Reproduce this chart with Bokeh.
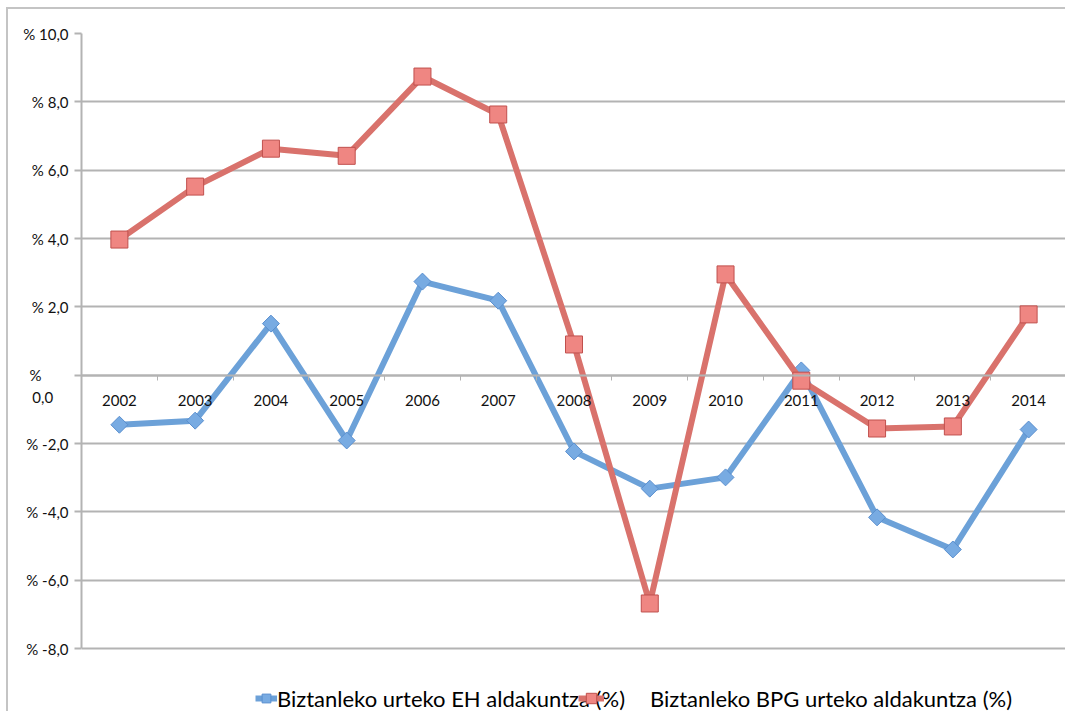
import numpy as np
from bokeh.plotting import figure
from bokeh.models import FixedTicker, Legend, LegendItem, Range1d
from bokeh.embed import file_html
from bokeh.resources import INLINE

years = [2002, 2003, 2004, 2005, 2006, 2007, 2008, 2009, 2010, 2011, 2012, 2013, 2014]
eh_change = [-1.45, -1.33, 1.51, -1.91, 2.74, 2.18, -2.23, -3.32, -2.99, 0.14, -4.16, -5.10, -1.59]
bpg_change = [3.97, 5.52, 6.63, 6.42, 8.74, 7.63, 0.90, -6.68, 2.95, -0.16, -1.56, -1.50, 1.78]
y_ticks = [-8, -6, -4, -2, 0, 2, 4, 6, 8, 10]
NB = "\u00a0"
y_tick_labels = ["% -8,0", "% -6,0", "% -4,0", "% -2,0", "\n%" + NB * 7 + "\n0,0" + NB * 4,
                 "% 2,0", "% 4,0", "% 6,0", "% 8,0", "% 10,0"]
label_eh = "Biztanleko urteko EH aldakuntza (%)"
label_bpg = "Biztanleko BPG urteko aldakuntza (%)"

FONT = "Lato"
GRID = "#b3b3b3"
BLUE = "#6ca1d8"
RED = "#d9726c"

p = figure(width=1059, height=704,
           x_range=Range1d(years[0] - 0.5, years[-1] + 0.5),
           y_range=Range1d(-9.9, 10.0),
           output_backend="svg", toolbar_location=None,
           min_border_left=73, min_border_right=1, min_border_top=24, min_border_bottom=0)
p.styles = {"border-top": "2px solid #c4c4c4", "border-left": "2px solid #c4c4c4",
            "margin-left": "6px", "margin-top": "7px"}
p.outline_line_color = None
p.background_fill_color = "white"
p.border_fill_color = "white"

# x axis drawn at y = 0
p.xaxis.fixed_location = 0
p.xaxis.ticker = FixedTicker(ticks=years, minor_ticks=[y - 0.5 for y in years] + [years[-1] + 0.5])
p.xaxis.major_label_overrides = {y: str(y) for y in years}
p.xaxis.major_tick_line_color = None
p.xaxis.minor_tick_line_color = GRID
p.xaxis.minor_tick_line_width = 1
p.xaxis.minor_tick_out = 5
p.xaxis.minor_tick_in = 0
p.xaxis.axis_line_color = GRID
p.xaxis.axis_line_width = 2
p.xaxis.major_label_standoff = 14
p.xaxis.major_label_text_font = FONT
p.xaxis.major_label_text_font_size = "15px"
p.xaxis.major_label_text_color = "#111111"
p.xgrid.visible = False

p.yaxis.ticker = FixedTicker(ticks=y_ticks)
p.yaxis.major_label_overrides = dict(zip(y_ticks, y_tick_labels))
p.yaxis.bounds = (y_ticks[0], y_ticks[-1])
p.yaxis.axis_line_color = GRID
p.yaxis.axis_line_width = 2
p.yaxis.major_tick_line_color = GRID
p.yaxis.major_tick_line_width = 2
p.yaxis.major_tick_out = 7
p.yaxis.major_tick_in = 0
p.yaxis.minor_tick_line_color = None
p.yaxis.major_label_standoff = 6
p.yaxis.major_label_text_font = FONT
p.yaxis.major_label_text_font_size = "15px"
p.yaxis.major_label_text_color = "#111111"
p.ygrid.grid_line_color = GRID
p.ygrid.grid_line_width = 2

l1 = p.line(years, eh_change, line_color=BLUE, line_width=6)
s1 = p.scatter(years, eh_change, marker="square", angle=np.pi / 4, size=12,
               fill_color="#78abe2", line_color="#5a8fcf", line_width=1)
l2 = p.line(years, bpg_change, line_color=RED, line_width=6)
s2 = p.scatter(years, bpg_change, marker="square", size=17,
               fill_color="#ef8682", line_color="#c0504d", line_width=1)

common = dict(orientation="horizontal", border_line_color=None, background_fill_alpha=0,
              label_text_font=FONT, label_text_font_size="22px", label_text_color="#000000",
              glyph_height=30, label_height=30, padding=0, margin=0)
legend_eh = Legend(items=[LegendItem(label=label_eh, renderers=[l1, s1])],
                   location=(174, 0), glyph_width=22, label_standoff=0, **common)
legend_bpg = Legend(items=[LegendItem(label=label_bpg, renderers=[l2, s2])],
                    location=(497, 0), glyph_width=26, label_standoff=46, **common)
p.add_layout(legend_eh)
p.add_layout(legend_bpg)

open("out.html", "w").write(file_html(p, INLINE))
